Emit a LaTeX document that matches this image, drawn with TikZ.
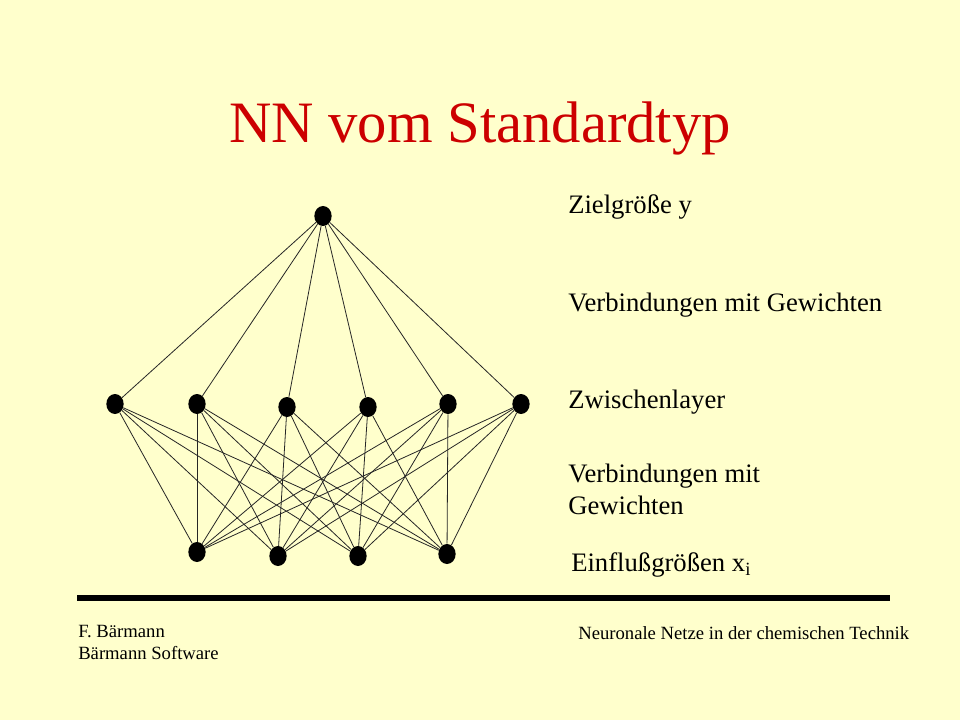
\documentclass[tikz,border=0pt]{standalone}
\usepackage{fontspec}
\setmainfont{Liberation Serif}
\usetikzlibrary{shapes.geometric}
\usepackage{xcolor}
\definecolor{slidebg}{RGB}{255,255,204}
\definecolor{titlered}{RGB}{204,0,0}

\begin{document}
\begin{tikzpicture}[x=0.75pt,y=-0.75pt]
      \tikzstyle{neuron}=[ellipse,fill=black,inner sep=0pt,minimum width=13pt,minimum height=15pt]
      \tikzstyle{weight}=[line width=0.6pt,black!85]
      \tikzstyle{label}=[anchor=west,inner sep=0pt,align=left,font=\fontsize{20}{24}\selectfont]
      \tikzstyle{footer}=[anchor=west,inner sep=0pt,align=left,font=\fontsize{14}{16.5}\selectfont]
      \fill[slidebg] (0,0) rectangle (960,720);

      \node[titlered,anchor=base,inner sep=0pt,font=\fontsize{44}{50}\selectfont] (title) at (480,143) {NN vom Standardtyp};

      % output layer
      \node[neuron] (y)  at (323,216) {};
      % hidden layer
      \node[neuron] (h1) at (115,404) {};
      \node[neuron] (h2) at (197,404) {};
      \node[neuron] (h3) at (287,407) {};
      \node[neuron] (h4) at (368,407) {};
      \node[neuron] (h5) at (448,404) {};
      \node[neuron] (h6) at (521,404) {};
      % input layer
      \node[neuron] (x1) at (197,552) {};
      \node[neuron] (x2) at (278,556) {};
      \node[neuron] (x3) at (358,556) {};
      \node[neuron] (x4) at (447,554) {};

      \foreach \h in {1,...,6} {
        \draw[weight] (y) -- (h\h);
        \foreach \x in {1,...,4}
          \draw[weight] (h\h) -- (x\x);
      }

      \node[label] (lout)  at (568,207) {Zielgröße y};
      \node[label] (lw2)   at (568,305) {Verbindungen mit Gewichten};
      \node[label] (lhid)  at (568,402) {Zwischenlayer};
      \node[label] (lw1)   at (568,489) {Verbindungen mit\\Gewichten};
      \node[label] (lin)   at (571,565) {Einflußgrößen x\textsubscript{i}};

      \coordinate (rulel) at (77,598);
      \coordinate (ruler) at (890,598);
      \draw[line width=3.8pt] (rulel) -- (ruler);

      \node[footer] (author) at (78,642) {F. Bärmann\\Bärmann Software};
      \node[footer] (topic)  at (578,633) {Neuronale Netze in der chemischen Technik};
\end{tikzpicture}
\end{document}
